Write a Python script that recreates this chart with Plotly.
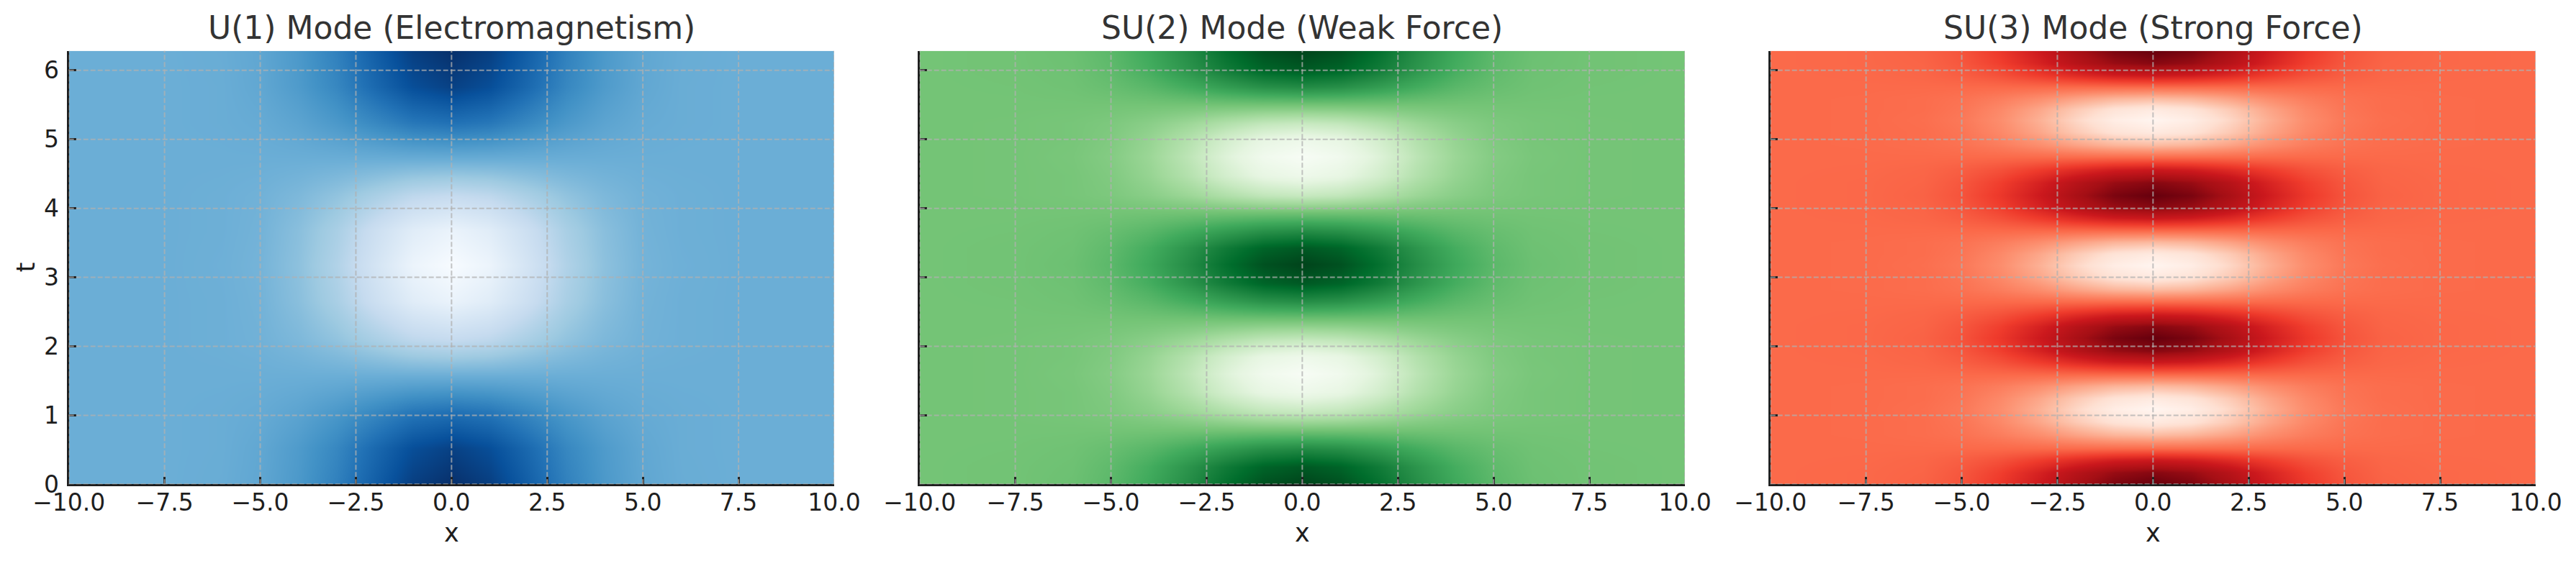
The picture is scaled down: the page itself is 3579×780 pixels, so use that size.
import plotly.graph_objects as go
from plotly.subplots import make_subplots

W, H = 3579, 780

titles = ["U(1) Mode (Electromagnetism)", "SU(2) Mode (Weak Force)", "SU(3) Mode (Strong Force)"]
colorscales = ["Blues", "Greens", "Reds"]
x_ticks = [-10, -7.5, -5, -2.5, 0, 2.5, 5, 7.5, 10]
t_ticks = [0, 1, 2, 3, 4, 5, 6]

# sample positions
x_grid = [-10, -7.5, -6, -5, -4, -3, -2, -1, 0, 1, 2, 3, 4, 5, 6, 7.5, 10]
u1_t = [0, .52, 1.05, 1.57, 2.09, 2.64, 3.18, 3.69, 4.19, 4.71, 5.24, 5.76, 6.28]
su2_t = [0, .26, .52, .79, 1.05, 1.33, 1.60, 1.85, 2.09, 2.38, 2.66, 2.92, 3.19,
         3.43, 3.67, 3.95, 4.19, 4.47, 4.75, 4.99, 5.24, 5.50, 5.76, 6.02, 6.28]
su3_t = [0, .17, .35, .52, .72, .90, 1.09, 1.25, 1.42, 1.59, 1.77, 1.94, 2.12,
         2.29, 2.46, 2.64, 2.82, 3.00, 3.18, 3.34, 3.51, 3.68, 3.85, 4.02, 4.19,
         4.37, 4.56, 4.74, 4.92, 5.10, 5.28, 5.44, 5.60, 5.76, 5.93, 6.11, 6.28]

# rows of the field, estimated from the colours (dark = +1, white = -1)
dark = [0, 0, .015, .07, .19, .38, .64, .89, 1, .89, .64, .38, .19, .07, .015, 0, 0]
dark2 = [0, 0, .01, .06, .17, .33, .56, .77, .87, .77, .56, .33, .17, .06, .01, 0, 0]
mid = [0, 0, .01, .03, .09, .19, .32, .45, .5, .45, .32, .19, .09, .03, .01, 0, 0]
zero = [0] * 17
light = [0, 0, -.01, -.03, -.09, -.19, -.32, -.45, -.5, -.45, -.32, -.19, -.09, -.03, -.01, 0, 0]
light2 = [0, 0, -.01, -.04, -.15, -.32, -.56, -.77, -.87, -.77, -.56, -.32, -.15, -.04, -.01, 0, 0]
white = [0, 0, -.015, -.05, -.17, -.37, -.64, -.89, -1, -.89, -.64, -.37, -.17, -.05, -.015, 0, 0]

# the SU(2) and SU(3) bands reach further out in x
wide_dark = [0, .01, .04, .12, .27, .48, .72, .92, 1, .92, .72, .48, .27, .12, .04, .01, 0]
wide_dark2 = [0, .01, .03, .10, .23, .42, .63, .80, .87, .80, .63, .42, .23, .10, .03, .01, 0]
wide_mid = [0, .005, .02, .06, .13, .24, .36, .46, .5, .46, .36, .24, .13, .06, .02, .005, 0]
wide_light = [0, -.005, -.02, -.05, -.12, -.22, -.35, -.46, -.5, -.46, -.35, -.22, -.12, -.05, -.02, -.005, 0]
wide_light2 = [0, -.005, -.02, -.07, -.19, -.37, -.60, -.79, -.87, -.79, -.60, -.37, -.19, -.07, -.02, -.005, 0]
wide_white = [0, -.005, -.03, -.09, -.22, -.43, -.69, -.91, -1, -.91, -.69, -.43, -.22, -.09, -.03, -.005, 0]

cycle = [dark, dark2, mid, zero, light, light2, white, light2, light, zero, mid, dark2]
wide_cycle = [wide_dark, wide_dark2, wide_mid, zero, wide_light, wide_light2, wide_white,
              wide_light2, wide_light, zero, wide_mid, wide_dark2]
u1_z = cycle + [dark]
su2_z = wide_cycle * 2 + [wide_dark]
su3_z = wide_cycle * 3 + [wide_dark]

fig = make_subplots(rows=1, cols=3, shared_yaxes=True)

for i, (t, z) in enumerate([(u1_t, u1_z), (su2_t, su2_z), (su3_t, su3_z)]):
    fig.add_trace(go.Heatmap(
        x=x_grid,
        y=t,
        z=z,
        zmin=-1,
        zmax=1,
        zsmooth='best',
        colorscale=colorscales[i],
        showscale=False
    ), row=1, col=i + 1)

# panel edges in pixels
panels = [(95.7, 1159), (1277.7, 2341), (2459.7, 3523)]
top, bottom = 70.7, 673.3
axis_style = dict(
    automargin=False,
    showgrid=False, zeroline=False, showline=True, linecolor='#1e1e1e', linewidth=3,
    ticks='inside', ticklen=10, tickwidth=2.5, tickcolor='#1e1e1e',
    tickfont=dict(family='DejaVu Sans', size=33, color='#1e1e1e'), mirror=False
)
for i, (left, right) in enumerate(panels):
    suffix = '' if i == 0 else str(i + 1)
    fig.update_layout(**{
        'xaxis' + suffix: dict(axis_style, domain=[left / W, right / W], range=[-10, 10],
                               tickvals=x_ticks, tickformat='.1f', ticklabelstandoff=-6),
        'yaxis' + suffix: dict(axis_style, domain=[1 - bottom / H, 1 - top / H], range=[0, 6.283],
                               tickvals=t_ticks, showticklabels=i == 0, ticklabelstandoff=4),
    })
    xref, yref = 'x' + suffix, 'y' + suffix

    # grilla punteada encima del heatmap
    for v in x_ticks:
        fig.add_shape(type='line', x0=v, x1=v, y0=0, y1=1, xref=xref, yref=yref + ' domain', layer='above',
                      line=dict(color='rgba(176,176,176,0.75)', width=2, dash='7px,3px'))
    for v in t_ticks:
        fig.add_shape(type='line', x0=0, x1=1, y0=v, y1=v, xref=xref + ' domain', yref=yref, layer='above',
                      line=dict(color='rgba(176,176,176,0.75)', width=2, dash='7px,3px'))

    fig.add_annotation(text=titles[i], xref=xref + ' domain', yref=yref + ' domain', x=.5, y=1,
                       xanchor='center', yanchor='bottom', yshift=5, showarrow=False,
                       font=dict(family='DejaVu Sans', size=44, color='#333333'))
    fig.add_annotation(text='x', xref=xref + ' domain', yref=yref + ' domain', x=.5, y=0,
                       xanchor='center', yanchor='top', yshift=-46, showarrow=False,
                       font=dict(family='DejaVu Sans', size=35, color='#1e1e1e'))

fig.add_annotation(text='t', xref='paper', yref='y domain', x=35.5 / W, y=.5, textangle=-90,
                   xanchor='center', yanchor='middle', showarrow=False,
                   font=dict(family='DejaVu Sans', size=35, color='#1e1e1e'))

fig.update_layout(
    width=W,
    height=H,
    margin=dict(l=0, r=0, t=0, b=0),
    paper_bgcolor='white',
    plot_bgcolor='white',
    showlegend=False
)

fig.write_html("out.html", config={'displayModeBar': False}, post_script="document.body.style.margin='0';")
